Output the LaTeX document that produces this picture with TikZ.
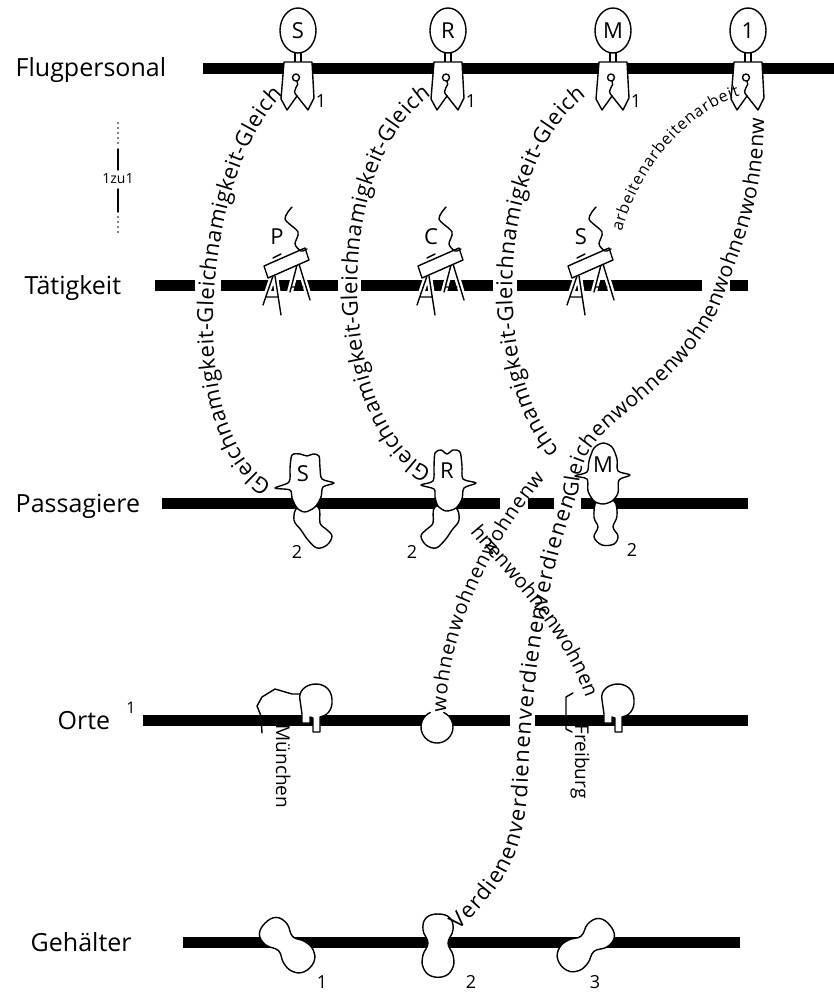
\documentclass[tikz,border=0pt]{standalone}
\usepackage{fontspec}
\setmainfont{Open Sans}
\usetikzlibrary{decorations.text}
\newcommand\curvefont{\fontsize{22}{22}\selectfont}
\newcommand\midcurvefont{\fontsize{21}{21}\selectfont}
\newcommand\smallcurvefont{\fontsize{20}{20}\selectfont}
\newcommand\arbfont{\fontsize{16}{16}\selectfont}
\tikzset{
 bar/.style={line width=11pt,line cap=butt},
 lab/.style={font=\fontsize{25}{25}\selectfont,anchor=base west,inner sep=0pt},
 num/.style={font=\fontsize{18}{18}\selectfont,inner sep=0pt},
 letter/.style={font=\fontsize{22}{22}\selectfont,inner sep=0pt},
 gap/.style={fill=white},
 dots/.style={line width=1.6pt,dash pattern=on 0pt off 5pt,line cap=round},
 crewfig/.pic={
  \draw[fill=white] (0,-37.5) ellipse [x radius=18pt, y radius=22.5pt];
  \node[letter] (-l) at (0,-37) {#1};
  \draw (-3,-15) -- (-3,-5) (3,-15) -- (3,-5);
  \draw[fill=white] (-14,-6) -- (14,-6) -- (16,30) -- (10,42) -- (-1,28) -- (-11,42) -- (-17,31) -- cycle;
  \draw (-2,9.5) circle [radius=3.5pt];
  \draw (-1,13) .. controls (3,18) and (-8,21) .. (-1,28);
 },
 benchfig/.pic={
  \draw[white,line width=6pt] (-13,-9) -- (-23,20) (-11,-9) -- (-5,30) (11,-20) -- (4,7) (13,-21) -- (24,15);
  \draw (-13,-9) -- (-23,20) (-11,-9) -- (-5,30) (-20,12) -- (-8,12) (11,-20) -- (4,7) (13,-21) -- (24,15) (6,2) -- (17,2);
  \draw[fill=white] (-22,-19) -- (19,-37) -- (23,-25) -- (-18,-7) -- cycle;
  \draw (-13,-27) -- (-5,-31);
  \draw plot[smooth] coordinates {(6,-78) (-1,-66) (12,-53) (9,-41) (15,-34) (21,-36)};
  \node[letter] (-l) at (-9,-48) {#1};
 },
 ortfig/.pic={
  \draw[fill=white] (0,-20) .. controls (-4,-38) and (30,-44) .. (32,-21) .. controls (33,-9) and (26,-4) .. (20,-3) -- (20,12) -- (13,12) -- (13,-2) -- (10,-3) -- (10,3) -- (2,3) -- (2,-6) -- cycle;
 },
 blobfig/.pic={
  \draw[fill=white] plot[smooth cycle,tension=0.7] coordinates {(0,-31) (12,-27) (15,-15) (10,-2) (15,10) (15,22) (7,31) (-7,31) (-15,22) (-15,10) (-10,-2) (-15,-15) (-12,-27)};
 }
}
\begin{document}
\begin{tikzpicture}[x=1pt,y=-1pt,line width=1.4pt,line join=round,line cap=round]
\useasboundingbox (0,0) rectangle (834,993);

% bars
\draw[bar] (203,68) -- (834,68);
\draw[bar] (155,285) -- (748,285);
\draw[bar] (162,503) -- (748,503);
\draw[bar] (143,720) -- (748,720);
\draw[bar] (183,942) -- (740,942);

% labels
\node[lab] (flug) at (15,76) {Flugpersonal};
\node[lab] (taet) at (24,294) {Tätigkeit};
\node[lab] (pass) at (15,512) {Passagiere};
\node[lab] (orte) at (57,729) {Orte};
\node[num,font=\fontsize{16}{16}\selectfont] (orteidx) at (131,708) {1};
\node[lab] (geh) at (30,951) {Gehälter};

% 1zu1
\draw[dots] (118,123) -- (118,145);
\draw (118,149) -- (118,170);
\node[font=\fontsize{14}{14}\selectfont,inner sep=0pt] (zu) at (118,179) {1zu1};
\draw (118,189) -- (118,212);
\draw[dots] (118,217) -- (118,232);

% gaps where the texts cross the bars
\fill[gap] (195,278) rectangle (221,292);
\fill[gap] (338,278) rectangle (361,292);
\fill[gap] (493,278) rectangle (517,292);
\fill[gap] (702,278) rectangle (730,292);
\fill[gap] (500,496) rectangle (528,510);
\fill[gap] (554,496) rectangle (581,510);
\fill[gap] (510,713) rectangle (535,727);

% Flugpersonal
\pic (crS) at (298,68) {crewfig=S};
\pic (crR) at (448,68) {crewfig=R};
\pic (crM) at (613,68) {crewfig=M};
\pic (crO) at (748,68) {crewfig=1};
\node[num] (nS1) at (321,101) {1};
\node[num] (nR1) at (471,101) {1};
\node[num] (nM1) at (636,101) {1};

% Taetigkeit
\pic (bP) at (286,285) {benchfig=P};
\pic (bC) at (440,285) {benchfig=C};
\pic (bS) at (590,285) {benchfig=S};

% Passagiere
\begin{scope}[shift={(305,503)}]
 \draw[fill=white] plot[smooth cycle,tension=0.6] coordinates {(-7,4) (-11,17) (-4,27) (3,37) (12,45) (22,42) (27,33) (21,26) (15,20) (13,4)};
 \draw[fill=white] plot[smooth cycle,tension=0.5] coordinates {(-13,-48) (-5,-49) (2,-47) (8,-49) (14,-47) (15,-35) (17,-24) (29,-20) (18,-16) (16,-6) (10,4) (0,9) (-8,5) (-13,-5) (-15,-13) (-30,-15) (-16,-21) (-15,-35)};
 \node[letter] (pS) at (-2,-29) {S};
\end{scope}
\begin{scope}[shift={(448,503)}]
 \draw[fill=white] plot[smooth cycle,tension=0.6] coordinates {(7,4) (11,17) (4,27) (-3,37) (-12,45) (-22,42) (-27,33) (-21,26) (-15,20) (-13,4)};
 \draw[fill=white] plot[smooth cycle,tension=0.5] coordinates {(-13,-50) (-7,-53) (-1,-49) (5,-53) (12,-51) (14,-37) (15,-24) (28,-20) (16,-15) (14,-4) (8,5) (-2,8) (-10,3) (-13,-6) (-14,-14) (-27,-18) (-15,-22) (-14,-36)};
 \node[letter] (pR) at (-1,-32) {R};
\end{scope}
\begin{scope}[shift={(603,503)}]
 \draw[fill=white] plot[smooth cycle,tension=0.6] coordinates {(-6,-2) (-9,14) (-5,24) (-9,34) (-1,42) (11,41) (15,33) (10,24) (14,13) (11,-2)};
 \draw[fill=white] plot[smooth cycle,tension=0.5] coordinates {(-14,-42) (-9,-55) (0,-60) (9,-56) (14,-44) (15,-32) (27,-28) (16,-23) (15,-10) (9,-2) (0,1) (-9,-2) (-15,-12) (-16,-24) (-28,-27) (-16,-31)};
 \node[letter] (pM) at (0,-38) {M};
\end{scope}
\node[num] (nS2) at (297,552) {2};
\node[num] (nR2) at (412,552) {2};
\node[num] (nM2) at (632,550) {2};

% Orte
\draw (262,733) -- (261,716) -- (257,706) -- (262,697) -- (275,689) -- (292,694) -- (300,694);
\pic (oM) at (300,720) {ortfig};
\fill[white] (437,727) circle [radius=16pt];
\draw (437,727) ++(65:16pt) arc [start angle=65, end angle=-245, radius=16pt];
\draw (573,693) -- (566,697) -- (566,729) -- (572,732);
\pic (oF) at (602,720) {ortfig};
\node[rotate=-90,anchor=base west,inner sep=0pt,font=\fontsize{19}{19}\selectfont] (muc) at (276,724) {München};
\node[rotate=-90,anchor=base west,inner sep=0pt,font=\fontsize{19}{19}\selectfont] (fre) at (575,724) {Freiburg};

% Gehaelter
\pic[rotate=45] (g1) at (287,945) {blobfig};
\pic (g2) at (438,945) {blobfig};
\pic[rotate=-50] (g3) at (586,945) {blobfig};
\node[num] (ng1) at (322,982) {1};
\node[num] (ng2) at (471,982) {2};
\node[num] (ng3) at (595,982) {3};

% texts along curves
\path[decorate,decoration={text along path,text align={fit to path},text={|\curvefont|Gleichnamigkeit-Gleichnamigkeit-Gleich}}]
  (272,484) .. controls (180,430) and (205,170) .. (283,95);
\path[decorate,decoration={text along path,text align={fit to path},text={|\curvefont|Gleichnamigkeit-Gleichnamigkeit-Gleich}}]
  (432,470) .. controls (335,420) and (330,165) .. (431,96);
\path[decorate,decoration={text along path,text align={fit to path},text={|\curvefont|chnamigkeit-Gleichnamigkeit-Gleich}}]
  (560,450) .. controls (495,380) and (490,170) .. (586,96);
\path[decorate,decoration={text along path,text align={fit to path},text={|\midcurvefont|Gleichenwohnenwohnenwohnenwohnenw}}]
  (578,498) .. controls (579,470) and (585,450) .. (605,432)
  .. controls (640,400) and (700,360) .. (722,300)
  .. controls (740,250) and (764,200) .. (764,118);
\path[decorate,decoration={text along path,text align={fit to path},text={|\smallcurvefont|wohnenwohnenwohnenw}}]
  (446,712) .. controls (448,630) and (490,545) .. (545,478);
\path[decorate,decoration={text along path,text align={fit to path},text={|\smallcurvefont|hnenwohnenwohnen}}]
  (470,532) .. controls (505,575) and (560,625) .. (586,698);
\path[decorate,decoration={text along path,text align={fit to path},text={|\curvefont|Verdienenverdienenverdienenverdienen}}]
  (458,930) .. controls (500,890) and (525,860) .. (528,780) .. controls (531,690) and (545,580) .. (576,498);
\path[decorate,decoration={text along path,text align={fit to path},text={|\arbfont|arbeitenarbeitenarbeit}}]
  (622,232) .. controls (632,190) and (672,118) .. (740,96);
\end{tikzpicture}
\end{document}
